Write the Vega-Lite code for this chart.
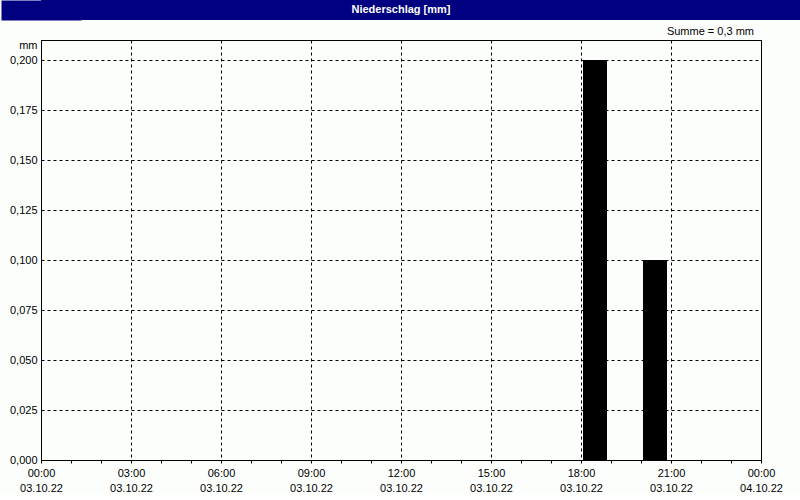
{
  "$schema": "https://vega.github.io/schema/vega-lite/v6.json",
  "padding": 0,
  "background": "#FCFEFC",
  "spacing": 5,
  "config": {
    "font": "Liberation Sans",
    "view": {"stroke": null}
  },
  "vconcat": [
    {
      "width": 760,
      "height": 20,
      "view": {"fill": "#000080", "stroke": null},
      "data": {"values": [{"title": "Niederschlag [mm]"}]},
      "mark": {"type": "text", "color": "white", "fontWeight": "bold", "fontSize": 11, "font": "Liberation Sans", "dx": -20},
      "encoding": {
        "text": {"field": "title", "type": "nominal"},
        "y": {"field": "title", "type": "nominal", "axis": {"title": null, "labels": false, "ticks": false, "domain": true, "domainColor": "#000080", "domainWidth": 80, "domainCap": "butt", "minExtent": 40, "maxExtent": 40}}
      }
    },
    {
      "width": 720,
      "height": 420,
      "view": {"stroke": "black", "strokeWidth": 1, "fill": "#FCFEFC"},
      "title": {"text": "Summe = 0,3 mm", "anchor": "end", "frame": "group", "fontSize": 11, "fontWeight": "normal", "color": "black", "offset": 2, "dx": -7},
      "data": {"values": [
        {"start": "2022-10-03T00:00:00Z", "end": "2022-10-03T01:00:00Z", "mm": 0},
        {"start": "2022-10-03T01:00:00Z", "end": "2022-10-03T02:00:00Z", "mm": 0},
        {"start": "2022-10-03T02:00:00Z", "end": "2022-10-03T03:00:00Z", "mm": 0},
        {"start": "2022-10-03T03:00:00Z", "end": "2022-10-03T04:00:00Z", "mm": 0},
        {"start": "2022-10-03T04:00:00Z", "end": "2022-10-03T05:00:00Z", "mm": 0},
        {"start": "2022-10-03T05:00:00Z", "end": "2022-10-03T06:00:00Z", "mm": 0},
        {"start": "2022-10-03T06:00:00Z", "end": "2022-10-03T07:00:00Z", "mm": 0},
        {"start": "2022-10-03T07:00:00Z", "end": "2022-10-03T08:00:00Z", "mm": 0},
        {"start": "2022-10-03T08:00:00Z", "end": "2022-10-03T09:00:00Z", "mm": 0},
        {"start": "2022-10-03T09:00:00Z", "end": "2022-10-03T10:00:00Z", "mm": 0},
        {"start": "2022-10-03T10:00:00Z", "end": "2022-10-03T11:00:00Z", "mm": 0},
        {"start": "2022-10-03T11:00:00Z", "end": "2022-10-03T12:00:00Z", "mm": 0},
        {"start": "2022-10-03T12:00:00Z", "end": "2022-10-03T13:00:00Z", "mm": 0},
        {"start": "2022-10-03T13:00:00Z", "end": "2022-10-03T14:00:00Z", "mm": 0},
        {"start": "2022-10-03T14:00:00Z", "end": "2022-10-03T15:00:00Z", "mm": 0},
        {"start": "2022-10-03T15:00:00Z", "end": "2022-10-03T16:00:00Z", "mm": 0},
        {"start": "2022-10-03T16:00:00Z", "end": "2022-10-03T17:00:00Z", "mm": 0},
        {"start": "2022-10-03T17:00:00Z", "end": "2022-10-03T18:00:00Z", "mm": 0},
        {"start": "2022-10-03T18:00:00Z", "end": "2022-10-03T19:00:00Z", "mm": 0.2},
        {"start": "2022-10-03T19:00:00Z", "end": "2022-10-03T20:00:00Z", "mm": 0},
        {"start": "2022-10-03T20:00:00Z", "end": "2022-10-03T21:00:00Z", "mm": 0.1},
        {"start": "2022-10-03T21:00:00Z", "end": "2022-10-03T22:00:00Z", "mm": 0},
        {"start": "2022-10-03T22:00:00Z", "end": "2022-10-03T23:00:00Z", "mm": 0},
        {"start": "2022-10-03T23:00:00Z", "end": "2022-10-04T00:00:00Z", "mm": 0}
      ]},
      "mark": {"type": "rect", "color": "#000000", "xOffset": 2, "x2Offset": -4},
      "encoding": {
        "x": {
          "field": "start", "type": "temporal",
          "scale": {"type": "utc", "domain": [{"year": 2022, "month": 10, "date": 3, "hours": 0, "utc": true}, {"year": 2022, "month": 10, "date": 4, "hours": 0, "utc": true}], "nice": false},
          "axis": {
            "title": null,
            "tickCount": 24,
            "labelExpr": "utchours(datum.value) % 3 === 0 ? [utcFormat(datum.value, '%H:%M'), utcFormat(datum.value, '%d.%m.%y')] : ''",
            "labelFlush": false,
            "labelOverlap": false,
            "labelFontSize": 11,
            "labelColor": "black",
            "labelLineHeight": 15,
            "labelBaseline": "top",
            "labelPadding": 4,
            "labelAngle": 0,
            "tickSize": 3,
            "tickColor": "black",
            "domainColor": "black",
            "grid": true,
            "gridColor": "black",
            "gridDash": [3, 3],
            "gridOpacity": {"condition": {"test": "utchours(datum.value) % 3 === 0", "value": 1}, "value": 0}
          }
        },
        "x2": {"field": "end"},
        "y": {
          "field": "mm", "type": "quantitative",
          "scale": {"domain": [0, 0.21], "nice": false},
          "axis": {
            "title": "mm",
            "titleAngle": 0,
            "titleAlign": "right",
            "titleBaseline": "middle",
            "titleX": -4,
            "titleY": 5,
            "titleFontSize": 11,
            "titleFontWeight": "normal",
            "titleColor": "black",
            "values": [0, 0.025, 0.05, 0.075, 0.1, 0.125, 0.15, 0.175, 0.2],
            "labelExpr": "replace(format(datum.value, '.3f'), '.', ',')",
            "labelFontSize": 11,
            "labelColor": "black",
            "labelPadding": 4,
            "ticks": false,
            "domainColor": "black",
            "grid": true,
            "gridColor": "black",
            "gridDash": [3, 3],
            "minExtent": 40,
            "maxExtent": 40
          }
        },
        "y2": {"datum": 0}
      }
    }
  ]
}
